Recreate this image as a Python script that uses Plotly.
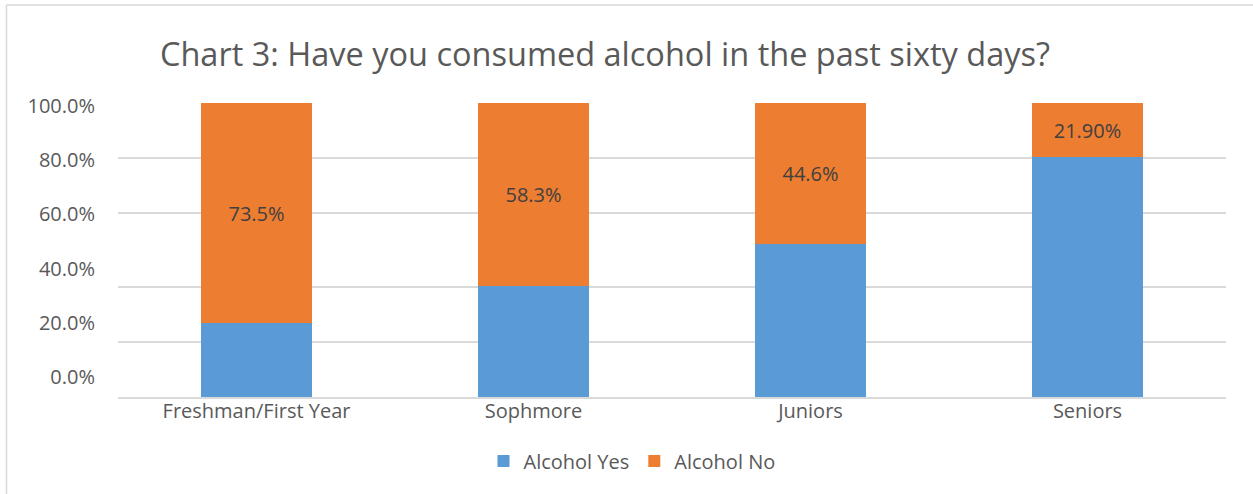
import plotly.graph_objects as go

# Survey responses by class year (100% stacked columns)
categories = ["Freshman/First Year", "Sophmore", "Juniors", "Seniors"]
alcohol_yes = [24.6, 35.3, 48.5, 96.5]
alcohol_no = [73.5, 58.3, 44.6, 21.9]
no_label_decimals = [1, 1, 1, 2]

# value-axis labels and the positions of the horizontal gridlines
label_ticks = [0, 20, 40, 60, 80, 100]
grid_ticks = [0, 18.7, 37.4, 62.6, 81.4, 100]

title_text = "Chart 3: Have you consumed alcohol in the past sixty days?"

BLUE = "#5B9BD5"
ORANGE = "#ED7D31"
GREY_TEXT = "#595959"
GRID = "#D9D9D9"
FONT = "Open Sans"

no_text = [f"{v:.{d}f}%" for v, d in zip(alcohol_no, no_label_decimals)]
label_text = [f"{v:.1f}%" for v in label_ticks]

fig = go.Figure()
fig.add_trace(go.Bar(
    name="Alcohol Yes", x=categories, y=alcohol_yes,
    marker=dict(color=BLUE, line=dict(width=0)),
    hoverinfo="skip",
))
fig.add_trace(go.Bar(
    name="Alcohol No", x=categories, y=alcohol_no,
    marker=dict(color=ORANGE, line=dict(width=0)),
    text=no_text, texttemplate="%{text}", textposition="inside",
    insidetextanchor="middle",
    textfont=dict(family=FONT, size=20, color="#404040"),
    hoverinfo="skip",
))

W, H = 1253, 494
L, R, T, B = 118, 27, 103, 97
plot_h = H - T - B
plot_w = W - L - R

fig.update_layout(
    width=W, height=H,
    margin=dict(l=L, r=R, t=T, b=B, pad=0),
    barmode="stack", barnorm="percent", bargap=0.6,
    paper_bgcolor="white", plot_bgcolor="white",
    font=dict(family=FONT, color=GREY_TEXT, size=20),
    title=dict(
        text=title_text, xref="container", yref="container",
        x=605 / W, y=1 - 55 / H, xanchor="center", yanchor="middle",
        font=dict(family=FONT, size=32.5, color=GREY_TEXT),
    ),
    xaxis=dict(
        showgrid=False, showline=True, linecolor=GRID, linewidth=1.5,
        ticks="", tickfont=dict(family=FONT, size=20, color=GREY_TEXT),
        ticklabelstandoff=-5,
    ),
    yaxis=dict(
        range=[0, 100], tickvals=grid_ticks, showticklabels=False,
        showgrid=True, gridcolor=GRID, gridwidth=1.5,
        zeroline=False, showline=False, ticks="",
    ),
    yaxis2=dict(
        overlaying="y", side="left", range=[-7.4, 101.1],
        tickvals=label_ticks, ticktext=label_text,
        showgrid=False, zeroline=False, showline=False, ticks="",
        tickfont=dict(family=FONT, size=20, color=GREY_TEXT),
        ticklabelstandoff=22,
    ),
    legend=dict(
        orientation="h", x=(632 - L) / plot_w, xanchor="center",
        y=(T + plot_h - 461) / plot_h, yanchor="middle",
        font=dict(family=FONT, size=20, color=GREY_TEXT),
        itemwidth=30, traceorder="normal",
    ),
    showlegend=True,
)

# invisible trace so the label axis is rendered
fig.add_trace(go.Scatter(
    x=[categories[0]], y=[0], yaxis="y2", mode="markers",
    marker=dict(opacity=0), showlegend=False, hoverinfo="skip",
))

# chart-area border (left and top edges)
x_border = (6.5 - L) / plot_w
y_border = 1 + (T - 5) / plot_h
fig.add_shape(type="line", xref="paper", yref="paper",
              x0=x_border, x1=x_border, y0=y_border, y1=-(B + 10) / plot_h,
              line=dict(color=GRID, width=1.5))
fig.add_shape(type="line", xref="paper", yref="paper",
              x0=x_border, x1=(W - L + 10) / plot_w, y0=y_border, y1=y_border,
              line=dict(color=GRID, width=1.5))

fig.write_html("out.html")
